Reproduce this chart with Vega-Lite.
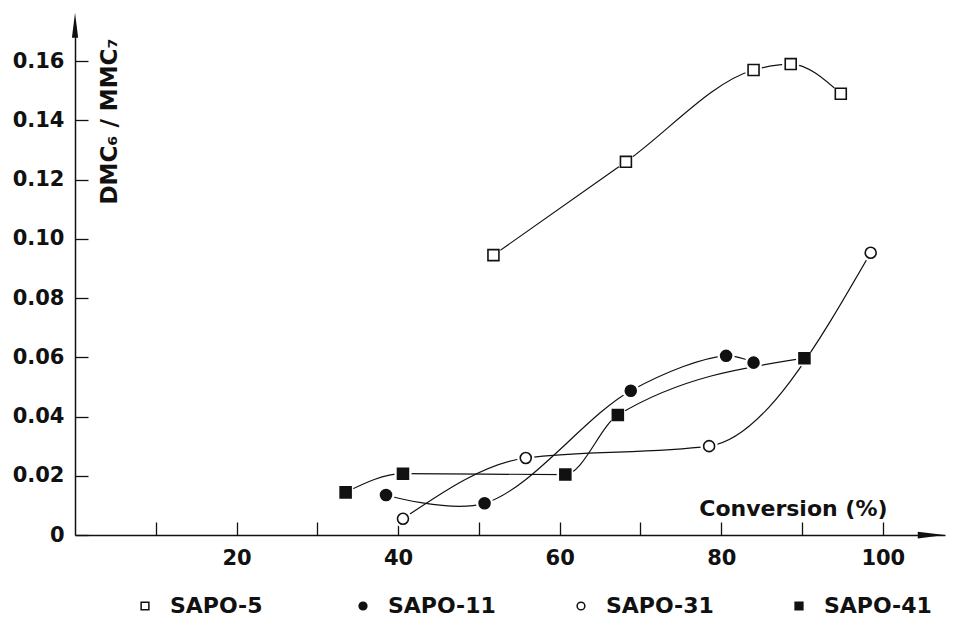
{
  "$schema": "https://vega.github.io/schema/vega-lite/v6.json",
  "width": 870,
  "height": 510,
  "autosize": {"type": "none"},
  "padding": {"left": 75, "top": 25, "right": 13, "bottom": 84},
  "background": "white",
  "config": {
    "view": {"stroke": null},
    "font": "DejaVu Sans",
    "axis": {
      "grid": false,
      "domainColor": "#111",
      "domainWidth": 1.5,
      "tickColor": "#111",
      "tickWidth": 1.3,
      "tickSize": -13,
      "labelFont": "DejaVu Sans",
      "labelFontSize": 21,
      "labelFontWeight": "bold",
      "labelColor": "#111",
      "titleFont": "DejaVu Sans",
      "titleFontSize": 22,
      "titleFontWeight": "bold",
      "titleColor": "#111"
    },
    "legend": {
      "labelFont": "DejaVu Sans",
      "labelFontSize": 22,
      "labelFontWeight": "bold",
      "labelColor": "#111",
      "labelLimit": 300
    }
  },
  "datasets": {
    "series": [
      {"catalyst": "SAPO-5", "conversion": 51.8, "ratio": 0.0945},
      {"catalyst": "SAPO-5", "conversion": 68.2, "ratio": 0.126},
      {"catalyst": "SAPO-5", "conversion": 84.0, "ratio": 0.157},
      {"catalyst": "SAPO-5", "conversion": 88.6, "ratio": 0.159},
      {"catalyst": "SAPO-5", "conversion": 94.8, "ratio": 0.149},
      {"catalyst": "SAPO-11", "conversion": 38.5, "ratio": 0.0135},
      {"catalyst": "SAPO-11", "conversion": 50.7, "ratio": 0.0107},
      {"catalyst": "SAPO-11", "conversion": 68.8, "ratio": 0.0487},
      {"catalyst": "SAPO-11", "conversion": 80.6, "ratio": 0.0605},
      {"catalyst": "SAPO-11", "conversion": 84.0, "ratio": 0.0582},
      {"catalyst": "SAPO-31", "conversion": 40.6, "ratio": 0.0055},
      {"catalyst": "SAPO-31", "conversion": 55.8, "ratio": 0.026},
      {"catalyst": "SAPO-31", "conversion": 78.5, "ratio": 0.030},
      {"catalyst": "SAPO-31", "conversion": 98.5, "ratio": 0.0953},
      {"catalyst": "SAPO-41", "conversion": 33.5, "ratio": 0.0144},
      {"catalyst": "SAPO-41", "conversion": 40.6, "ratio": 0.0207},
      {"catalyst": "SAPO-41", "conversion": 60.7, "ratio": 0.0204},
      {"catalyst": "SAPO-41", "conversion": 67.2, "ratio": 0.0405},
      {"catalyst": "SAPO-41", "conversion": 90.3, "ratio": 0.0597}
    ],
    "xarrow": [{"conversion": 106.0, "ratio": 0}],
    "yarrow": [{"conversion": 0, "ratio": 0.1721}]
  },
  "layer": [
    {
      "data": {"name": "series"},
      "transform": [{"filter": "datum.catalyst != 'SAPO-11'"}],
      "mark": {"type": "line", "interpolate": "monotone", "color": "#111", "strokeWidth": 1.2},
      "encoding": {
        "x": {
          "field": "conversion", "type": "quantitative",
          "scale": {"domain": [0, 107.7], "nice": false, "zero": false},
          "axis": {
            "values": [10, 20, 30, 40, 50, 60, 70, 80, 90, 100],
            "labelExpr": "datum.value % 20 == 0 ? datum.label : ''",
            "labelPadding": 25,
            "title": "Conversion (%)",
            "titleAlign": "right",
            "titleBaseline": "alphabetic",
            "titleAnchor": null,
            "titleX": 812,
            "titleY": -20
          }
        },
        "y": {
          "field": "ratio", "type": "quantitative",
          "scale": {"domain": [0, 0.1722], "nice": false},
          "axis": {
            "values": [0, 0.02, 0.04, 0.06, 0.08, 0.1, 0.12, 0.14, 0.16],
            "labelExpr": "datum.value == 0 ? '0' : format(datum.value, '.2f')",
            "labelPadding": 24,
            "title": "DMC₆ / MMC₇",
            "titleFontSize": 23,
            "titleAngle": 270,
            "titleAlign": "center",
            "titleBaseline": "middle",
            "titleAnchor": null,
            "titleX": 34,
            "titleY": 96
          }
        },
        "detail": {"field": "catalyst"}
      }
    },
    {
      "data": {"name": "series"},
      "transform": [{"filter": "datum.catalyst == 'SAPO-11'"}],
      "mark": {"type": "line", "interpolate": "catmull-rom", "color": "#111", "strokeWidth": 1.2},
      "encoding": {
        "x": {"field": "conversion", "type": "quantitative"},
        "y": {"field": "ratio", "type": "quantitative"},
        "detail": {"field": "catalyst"}
      }
    },
    {
      "data": {"name": "series"},
      "mark": {"type": "point", "filled": true, "color": "white", "size": 300, "opacity": 1},
      "encoding": {
        "x": {"field": "conversion", "type": "quantitative"},
        "y": {"field": "ratio", "type": "quantitative"}
      }
    },
    {
      "data": {"name": "series"},
      "mark": {"type": "point", "filled": true, "stroke": "#111", "strokeWidth": 1.6, "size": 120, "opacity": 1},
      "encoding": {
        "x": {"field": "conversion", "type": "quantitative"},
        "y": {"field": "ratio", "type": "quantitative"},
        "shape": {
          "field": "catalyst", "type": "nominal",
          "scale": {"domain": ["SAPO-5", "SAPO-11", "SAPO-31", "SAPO-41"], "range": ["square", "circle", "circle", "square"]},
          "legend": {
            "title": null,
            "orient": "none",
            "direction": "horizontal",
            "columns": 4,
            "gridAlign": "all",
            "columnPadding": 74,
            "symbolSize": 60,
            "labelOffset": 14,
            "legendX": 59,
            "legendY": 570,
            "encode": {"symbols": {"update": {"stroke": {"value": "#111"}, "strokeWidth": {"value": 1.5}}}}
          }
        },
        "fill": {
          "field": "catalyst", "type": "nominal",
          "scale": {"domain": ["SAPO-5", "SAPO-11", "SAPO-31", "SAPO-41"], "range": ["white", "#111", "white", "#111"]},
          "legend": {
            "title": null,
            "orient": "none",
            "direction": "horizontal",
            "columns": 4,
            "gridAlign": "all",
            "columnPadding": 74,
            "symbolSize": 60,
            "labelOffset": 14,
            "legendX": 59,
            "legendY": 570,
            "encode": {"symbols": {"update": {"stroke": {"value": "#111"}, "strokeWidth": {"value": 1.5}}}}
          }
        }
      }
    },
    {
      "data": {"name": "xarrow"},
      "mark": {"type": "point", "filled": true, "color": "#111", "size": 729, "opacity": 1, "shape": "M-1,-0.25L1,0L-1,0.25Z"},
      "encoding": {
        "x": {"field": "conversion", "type": "quantitative"},
        "y": {"field": "ratio", "type": "quantitative"}
      }
    },
    {
      "data": {"name": "yarrow"},
      "mark": {"type": "point", "filled": true, "color": "#111", "size": 625, "opacity": 1, "shape": "M-0.25,1L0,-1L0.25,1Z"},
      "encoding": {
        "x": {"field": "conversion", "type": "quantitative"},
        "y": {"field": "ratio", "type": "quantitative"}
      }
    }
  ]
}
